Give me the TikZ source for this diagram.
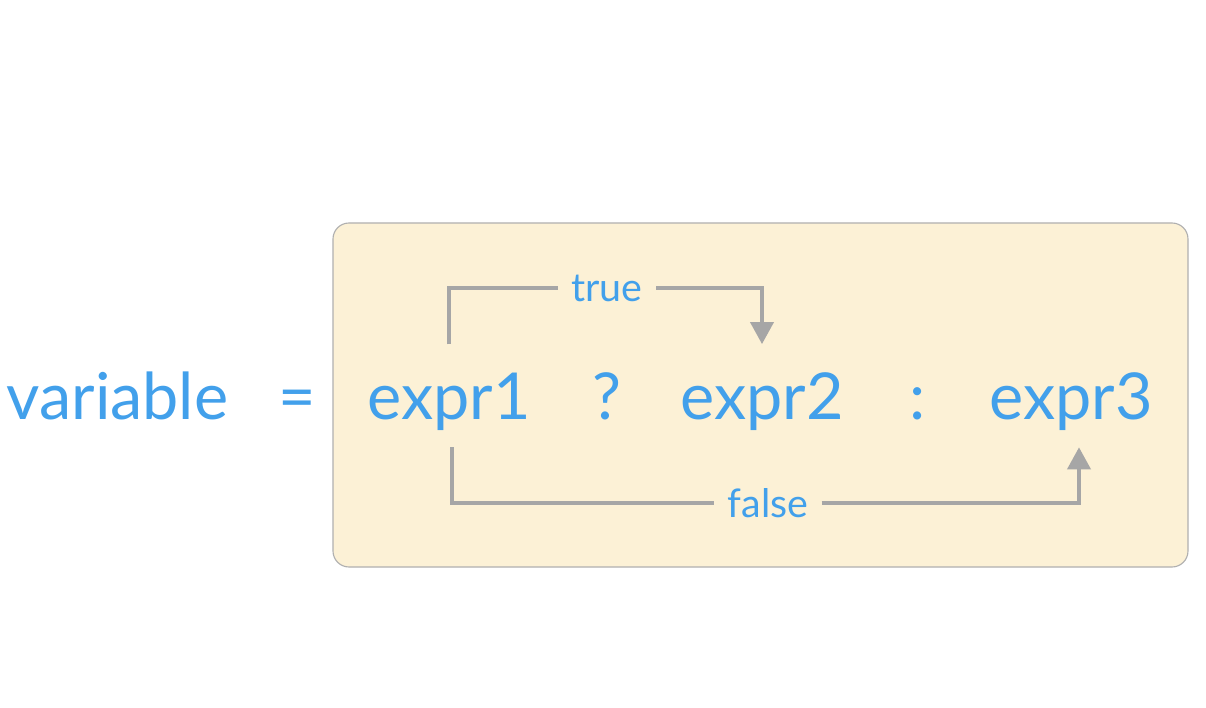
\documentclass[tikz,border=0pt]{standalone}
\usepackage{fontspec}
\setmainfont{Lato}
\usetikzlibrary{arrows.meta}
\definecolor{codeblue}{RGB}{66,160,235}
\definecolor{boxfill}{RGB}{252,241,214}
\definecolor{boxline}{RGB}{176,176,176}
\definecolor{flowgray}{RGB}{166,166,166}

\begin{document}
\begin{tikzpicture}[x=0.025cm,y=-0.025cm,
  term/.style={text=codeblue,inner sep=0pt,anchor=base,font=\fontsize{46}{52}\selectfont},
  cond/.style={text=codeblue,inner xsep=0.33cm,inner ysep=0pt,font=\fontsize{28}{33}\selectfont},
  flow/.style={draw=flowgray,line width=2.4pt,-{Triangle[length=0.55cm,width=0.58cm]}}]
\useasboundingbox[fill=white] (0,0) rectangle (1206,708);
% the yellow box round the conditional
\draw[boxline,fill=boxfill,line width=0.8pt,rounded corners=0.4cm] (333,223) rectangle (1188,567);
\node[term] (var) at (117.5,420) {variable};
\node[term] (eq) at (297,420) {=};
\node[term] (e1) at (449,420) {expr1};
\node[term] (qm) at (607,420) {?};
\node[term] (e2) at (762,420) {expr2};
\node[term] (col) at (918,420) {:};
\node[term] (e3) at (1071,420) {expr3};
\node[cond] (tl) at (607,288) {true};
\node[cond] (fl) at (768,503) {false};
% true branch
\draw[draw=flowgray,line width=2.4pt] (e1.north) ++(0,-29) |- (tl.west);
\draw[flow] (tl.east) -| ([yshift=0.72cm]e2.north);
% false branch
\draw[draw=flowgray,line width=2.4pt] (e1.south) ++(3,16) |- (fl.west);
\draw[flow] (fl.east) -| ([xshift=0.2cm,yshift=-0.4cm]e3.south);
\end{tikzpicture}
\end{document}
